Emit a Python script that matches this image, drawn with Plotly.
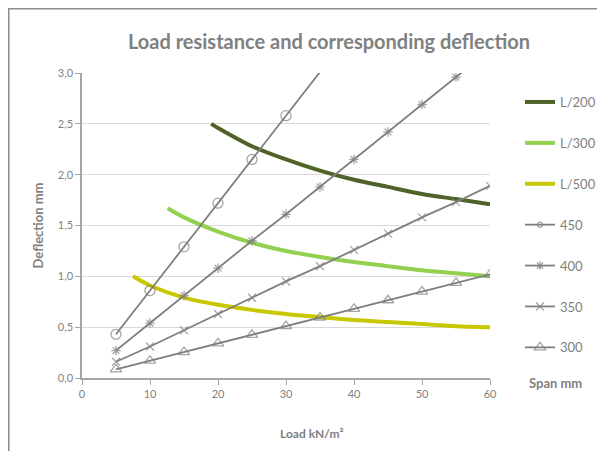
import plotly.graph_objects as go

# Span series (gray lines with markers)
load = [5, 10, 15, 20, 25, 30, 35, 40, 45, 50, 55, 60]
span_450 = [0.43, 0.86, 1.29, 1.72, 2.15, 2.58, 3.01, 3.44, 3.87, 4.30, 4.73, 5.16]
span_400 = [0.27, 0.54, 0.81, 1.08, 1.35, 1.61, 1.88, 2.15, 2.42, 2.69, 2.96, 3.23]
span_350 = [0.16, 0.31, 0.47, 0.63, 0.79, 0.95, 1.10, 1.26, 1.42, 1.58, 1.73, 1.89]
span_300 = [0.085, 0.17, 0.255, 0.34, 0.425, 0.51, 0.595, 0.68, 0.765, 0.85, 0.935, 1.02]

# Deflection limit curves
l200_x = [19, 20, 25, 30, 35, 40, 45, 50, 55, 60]
l200_y = [2.50, 2.46, 2.28, 2.15, 2.04, 1.95, 1.88, 1.81, 1.76, 1.71]
l300_x = [12.6, 15, 20, 25, 30, 35, 40, 45, 50, 55, 60]
l300_y = [1.67, 1.58, 1.44, 1.33, 1.25, 1.19, 1.14, 1.10, 1.06, 1.03, 1.00]
l500_x = [7.5, 10, 15, 20, 25, 30, 35, 40, 45, 50, 55, 60]
l500_y = [1.00, 0.91, 0.79, 0.72, 0.67, 0.63, 0.60, 0.57, 0.55, 0.53, 0.51, 0.50]

x_ticks = [0, 10, 20, 30, 40, 50, 60]
y_ticks = [0, 0.5, 1.0, 1.5, 2.0, 2.5, 3.0]
y_tick_labels = ["0,0", "0,5", "1,0", "1,5", "2,0", "2,5", "3,0"]

Y_MAX = 3.0
GRAY = "#7f7f7f"
TXT = "#7f7f7f"
FONT = "Lato"

fig = go.Figure()

curves = [
    ("L/200", l200_x, l200_y, "#4f6228"),
    ("L/300", l300_x, l300_y, "#92d050"),
    ("L/500", l500_x, l500_y, "#c8c800"),
]
for i, (name, xs, ys, col) in enumerate(curves):
    fig.add_trace(go.Scatter(
        x=xs, y=ys, name=name, mode="lines",
        line=dict(color=col, width=4, shape="spline", smoothing=0.8),
        legendgroup=f"g{i}",
    ))

spans = [
    ("450", span_450, "circle-open", 10),
    ("400", span_400, "asterisk-open", 8),
    ("350", span_350, "x-thin-open", 8),
    ("300", span_300, "triangle-up-open", 10),
]
for j, (name, ys, sym, msz) in enumerate(spans):
    sizes = [msz if v <= Y_MAX else 0 for v in ys]
    fig.add_trace(go.Scatter(
        x=load, y=ys, name=name, mode="lines+markers",
        line=dict(color=GRAY, width=1.8),
        marker=dict(symbol=sym, size=sizes, color=GRAY,
                    line=dict(color=GRAY, width=1.3)),
        legendgroup=f"s{j}",
    ))

# page body has an 8px margin: target pixel coords are shifted by OFF
OFF = 8
W, H = 605, 451
L, R, T, B = 82 - OFF, 605 - (490 - OFF), 73 - OFF, 451 - (378 - OFF)
pw, ph = W - L - R, H - T - B

def px(xp):
    return (xp - OFF - L) / pw

def py(yp):
    return (H - B - (yp - OFF)) / ph

fig.update_layout(
    width=W, height=H,
    margin=dict(l=L, r=R, t=T, b=B, autoexpand=False),
    paper_bgcolor="white", plot_bgcolor="white",
    font=dict(family=FONT, color=TXT, size=11),
    title=dict(text="<b>Load resistance and corresponding deflection</b>",
               x=px(329), xref="paper", xanchor="center",
               y=1 - (42 - OFF) / H, yanchor="middle",
               font=dict(family=FONT, size=20, color="#808080")),
    xaxis=dict(range=[0, 60], tickvals=x_ticks, showgrid=False,
               showline=True, linecolor="#a6a6a6", linewidth=1.5,
               ticks="outside", ticklen=5, tickcolor="#a6a6a6",
               tickfont=dict(size=11, color="#7f7f7f"),
               zeroline=False),
    yaxis=dict(range=[0, 3.0], tickvals=y_ticks, ticktext=y_tick_labels,
               showgrid=True, gridcolor="#d9d9d9", gridwidth=1,
               showline=True, linecolor="#a6a6a6", linewidth=1.5,
               ticks="outside", ticklen=5, tickcolor="#a6a6a6",
               tickfont=dict(size=11, color="#7f7f7f"),
               zeroline=False,
               title=dict(text="<b>Deflection mm</b>", standoff=11,
                          font=dict(size=13, color="#7f7f7f"))),
    legend=dict(x=px(520), xanchor="left", y=py(87), yanchor="top",
                font=dict(size=13, color="#7f7f7f"),
                tracegroupgap=21, itemwidth=30,
                bgcolor="rgba(0,0,0,0)"),
    showlegend=True,
    shapes=[dict(type="rect", xref="paper", yref="paper",
                 x0=px(OFF + 0.75), x1=px(650), y0=py(490), y1=py(OFF + 0.75),
                 line=dict(color="#8c8c8c", width=1.5),
                 fillcolor="rgba(0,0,0,0)", layer="below")],
    annotations=[
        dict(text="<b>Span mm</b>", xref="paper", yref="paper",
             x=px(527), y=py(383), xanchor="left", yanchor="middle",
             showarrow=False, font=dict(size=13, color="#7f7f7f")),
        dict(text="<b>Load kN/m²</b>", xref="paper", yref="paper",
             x=px(312), y=py(433), xanchor="center", yanchor="middle",
             showarrow=False, font=dict(size=12, color="#7f7f7f")),
    ],
)

fig.write_html("out.html")
